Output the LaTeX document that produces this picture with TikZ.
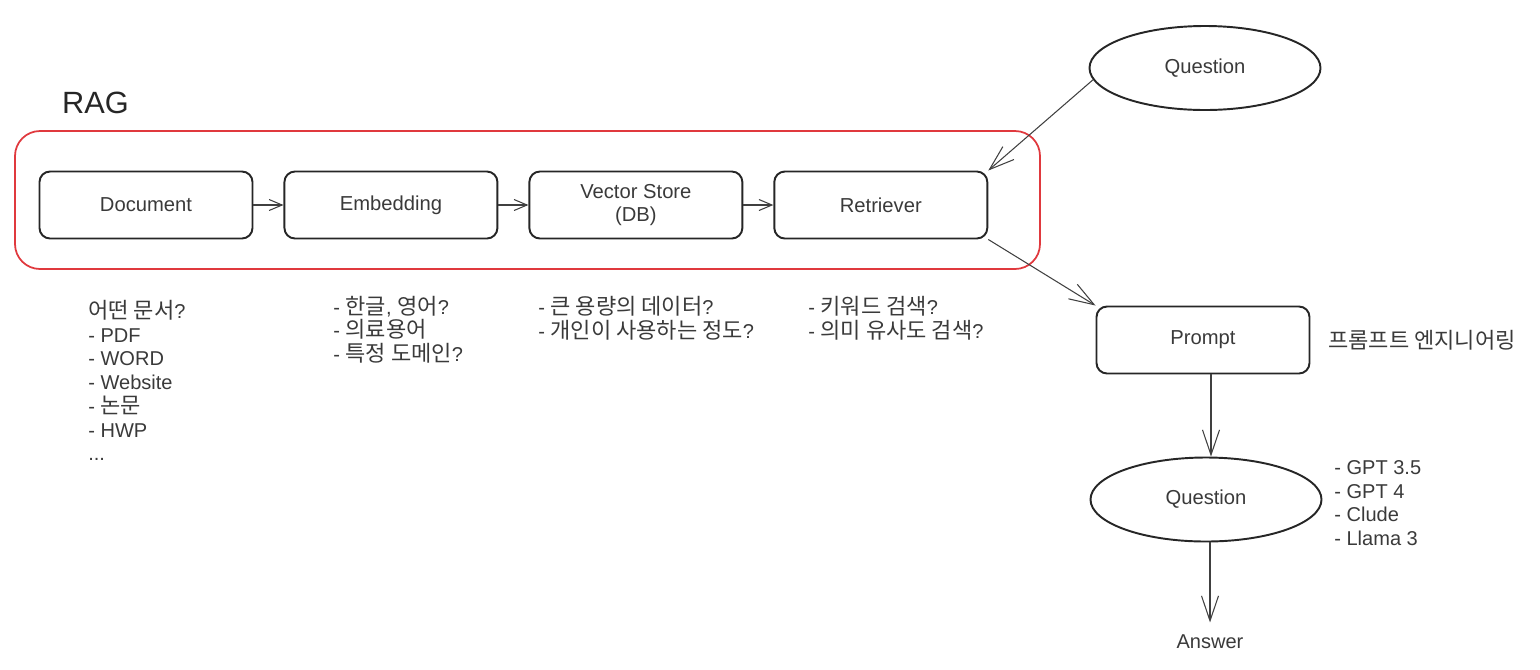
\documentclass[tikz,border=0pt]{standalone}
\usepackage{fontspec}
\setmainfont{Liberation Sans}
\newfontfamily\kr[Scale=1.1]{Noto Sans CJK KR}
\usetikzlibrary{arrows.meta, positioning, shapes.geometric}
\definecolor{txtgray}{HTML}{3A3A3A}
\definecolor{ragred}{HTML}{E0393E}

\begin{document}
\begin{tikzpicture}[
    node distance=0.6cm,
    box/.style   = {rectangle, draw=black!85, line width=1.1pt, rounded corners=6pt,
                    minimum width=4.26cm, minimum height=1.34cm,
                    align=center, text=txtgray, font=\fontsize{11.5}{13.6}\selectfont},
    query/.style = {ellipse, draw=black!85, line width=1.1pt,
                    minimum width=4.62cm, minimum height=1.68cm,
                    text=txtgray, font=\fontsize{11.5}{13.6}\selectfont},
    note/.style  = {align=left, anchor=west, inner sep=0pt, text=txtgray,
                    font=\fontsize{11.4}{13.5}\selectfont},
    frame/.style = {draw=ragred, line width=1pt, rounded corners=0.5cm},
    link/.style  = {-{Straight Barb[length=0.26cm, width=0.22cm]}, draw=black!75, line width=0.6pt},
    arrow/.style = {-{Straight Barb[length=0.5cm, width=0.34cm]}, draw=black!75, line width=0.6pt}
]
\useasboundingbox (0,0) rectangle (30.8,-13.38);

% ========= RAG pipeline =========
\node[box] at (2.92,-4.10)   (doc) {Document};
\node[box, right=of doc]     (emb) {Embedding};
\node[box, right=of emb]     (vec) {Vector Store\\(DB)};
\node[box, right=of vec]     (ret) {Retriever};

\draw[link] (doc) -- (emb);
\draw[link] (emb) -- (vec);
\draw[link] (vec) -- (ret);

\draw[frame] (0.30,-2.62) rectangle (20.80,-5.38);
\node[anchor=west, text=black!85, font=\fontsize{17.5}{20}\selectfont] (rag) at (1.12,-2.06) {RAG};

% ========= notes under each step =========
\node[note] (docnote) at (1.76,-7.61)
    {{\kr 어떤 문서}?\\- PDF\\- WORD\\- Website\\- {\kr 논문}\\- HWP\\...};
\node[note] (embnote) at (6.66,-6.59)
    {- {\kr 한글}, {\kr 영어}?\\- {\kr 의료용어}\\- {\kr 특정 도메인}?};
\node[note] (vecnote) at (10.76,-6.36)
    {- {\kr 큰 용량의 데이터}?\\- {\kr 개인이 사용하는 정도}?};
\node[note] (retnote) at (16.16,-6.36)
    {- {\kr 키워드 검색}?\\- {\kr 의미 유사도 검색}?};

% ========= question / prompt / answer =========
\node[query] at (24.10,-1.36)  (q1)     {Question};
\node[box]   at (24.06,-6.80)  (prompt) {Prompt};
\node[query] at (24.12,-9.99)  (q2)     {Question};
\node[text=txtgray, inner ysep=7pt, font=\fontsize{11.4}{13}\selectfont,
      below=1.6cm of q2, xshift=0.08cm] (answer) {Answer};

\node[note] (promptnote) at (26.56,-6.80) {{\kr 프롬프트 엔지니어링}};
\node[note] (llmnote)    at (26.68,-10.06) {- GPT 3.5\\- GPT 4\\- Clude\\- Llama 3};

\draw[arrow] (q1.186) -- (ret.north east);
\draw[arrow] (ret.south east) -- (prompt.north west);
\draw[arrow] ([xshift=0.16cm]prompt.south) -- ([xshift=0.10cm]q2.north);
\draw[arrow] ([xshift=0.08cm]q2.south) -- (answer.north);

\end{tikzpicture}
\end{document}
